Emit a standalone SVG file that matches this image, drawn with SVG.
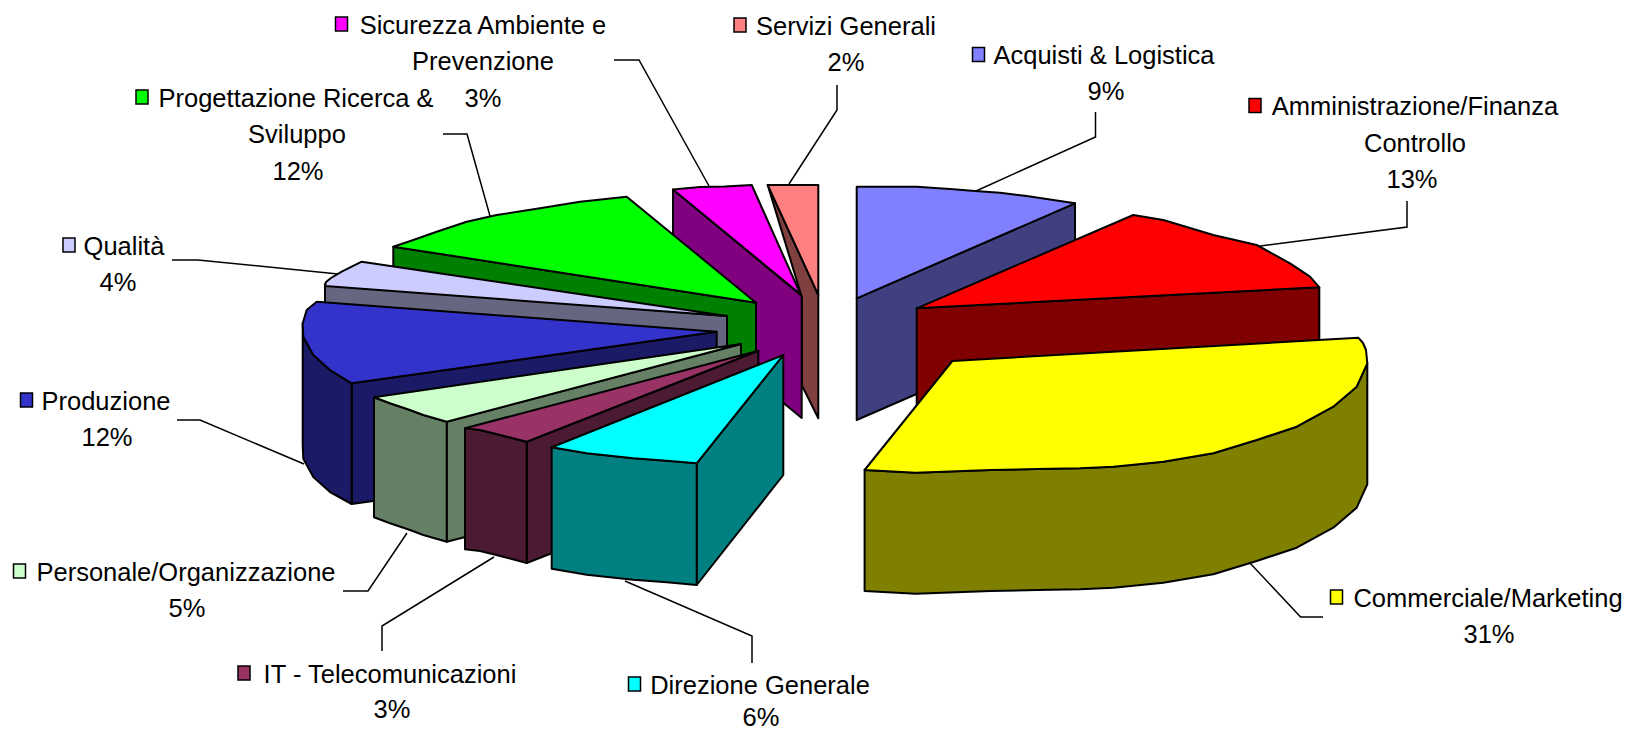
<svg xmlns="http://www.w3.org/2000/svg" width="1632" height="731" viewBox="0 0 1632 731">
<style>
.s{stroke:#000;stroke-width:2;stroke-linejoin:round}
.k{stroke:#000;stroke-width:1.5}
.l{fill:none;stroke:#000;stroke-width:1.5}
text{font-family:"Liberation Sans",Arial,sans-serif;font-size:25.5px;fill:#000;text-anchor:middle}
</style>
<rect width="1632" height="731" fill="#fff"/>
<g id="slice-servizi">
<polygon class="s" fill="#804040" points="767.7,185 818.3,295 818.3,418.3 801.7,385 801.7,296.7"/>
<polygon class="s" fill="#FF8080" points="767.7,185 818.3,185 818.3,295"/>
</g>
<g id="slice-sicurezza">
<polygon class="s" fill="#800080" points="673,189.5 801.7,296 801.7,418 673,312"/>
<polygon class="s" fill="#FF00FF" points="673,189.5 700,187 725,186.5 751.7,185 800.7,294.5"/>
</g>
<g id="slice-acquisti">
<polygon class="s" fill="#404080" points="856.7,298.3 1075,203.3 1075,325 856.7,420"/>
<polygon class="s" fill="#8080FF" points="856.7,186.7 916.7,186.7 953.3,189.3 975,191 1000,192.7 1026.7,196 1053.3,200 1075,203.3 856.7,298.3"/>
</g>
<g id="slice-progettazione">
<polygon class="s" fill="#008000" points="393.3,246.7 756,302.7 756,425 393.3,369"/>
<polygon class="s" fill="#00FF00" points="393.3,246.7 413.3,240 436.7,231.7 466.7,221.7 496.7,215 540,208.3 580,201.7 626.7,196.7 756,302.7"/>
</g>
<g id="slice-qualita">
<polygon class="s" fill="#666680" points="325,284 727,316 727,438 325,408"/>
<polygon class="s" fill="#CCCCFF" points="325,286 326,282 331,278 341.7,271.7 361.7,261.7 727,316"/>
</g>
<g id="slice-produzione">
<polygon class="s" fill="#1A1A66" points="351.7,383.3 716.7,331.7 716.7,453 351.7,504"/>
<polygon class="s" fill="#1A1A66" points="302.7,323.3 303.3,336.7 313.3,355 330,370 351.7,383.3 351.7,504 330,492 313.3,477 303.3,458.7 302.7,445.3"/>
<polygon class="s" fill="#3333CC" points="316.7,301.7 306.7,310 302.7,323.3 303.3,336.7 313.3,355 330,370 351.7,383.3 716.7,331.7"/>
</g>
<g id="slice-amministrazione">
<polygon class="s" fill="#800000" points="916.7,308.3 1319.3,287.3 1319.3,409 916.7,430"/>
<polygon class="s" fill="#FF0000" points="916.7,308.3 1133.3,215 1163.3,220 1213.3,235 1256.7,245 1290,263.3 1310,276.7 1319.3,287.3"/>
</g>
<g id="slice-personale">
<polygon class="s" fill="#668066" points="446.7,421.7 741,344 741,466 446.7,541.7"/>
<polygon class="s" fill="#668066" points="374,397.3 390,403.3 410,410 423.3,415 443.3,420.7 446.7,421.7 446.7,541.7 443.3,540.7 423.3,535 410,530 390,523.3 374,517.3"/>
<polygon class="s" fill="#CCFFCC" points="374,397.3 390,403.3 410,410 423.3,415 443.3,420.7 446.7,421.7 741,344"/>
</g>
<g id="slice-it">
<polygon class="s" fill="#4D1A33" points="526.7,441.7 758.3,350.7 758.3,472.7 526.7,563"/>
<polygon class="s" fill="#4D1A33" points="465,428.3 480,430 493.3,433.3 510,437.5 526.7,441.7 526.7,563 510,558.5 493.3,554.3 480,551 465,549.3"/>
<polygon class="s" fill="#993366" points="465,428.3 480,430 493.3,433.3 510,437.5 526.7,441.7 758.3,350.7"/>
</g>
<g id="slice-direzione">
<polygon class="s" fill="#008080" points="696.7,463.3 783.3,355 783.3,475 696.7,585"/>
<polygon class="s" fill="#008080" points="551.7,447.3 586.7,453.3 633.3,458.3 666.7,460.7 696.7,463.3 696.7,585 666.7,582.2 633.3,579.8 586.7,574.8 551.7,568.8"/>
<polygon class="s" fill="#00FFFF" points="551.7,447.3 586.7,453.3 633.3,458.3 666.7,460.7 696.7,463.3 783.3,355"/>
</g>
<g id="slice-commerciale">
<polygon class="s" fill="#808000" points="1367.3,363.3 1356.7,386.7 1333.3,406.7 1296.7,426.7 1256.7,440 1213.3,453.3 1163.3,461.7 1113.3,466.7 1080,468.3 1037,469 990.7,470 915.7,472.7 864.6,470 864.6,591 915.7,593.7 990.7,591 1037,590 1080,589.3 1113.3,587.7 1163.3,582.7 1213.3,574.3 1256.7,561 1296.7,547.7 1333.3,527.7 1356.7,507.7 1367.3,484.3"/>
<polygon class="s" fill="#FFFF00" points="952.3,361 1358.3,337.7 1363,343 1366,350 1367.3,363.3 1356.7,386.7 1333.3,406.7 1296.7,426.7 1256.7,440 1213.3,453.3 1163.3,461.7 1113.3,466.7 1080,468.3 1037,469 990.7,470 915.7,472.7 864.6,470"/>
</g>
<g id="connectors">
<polyline class="l" points="614,60 639,60 709,186"/>
<polyline class="l" points="837,85 837,110 789,184"/>
<polyline class="l" points="1095.5,112 1095.5,137 976,191"/>
<polyline class="l" points="1407,201 1407,227 1260,246"/>
<polyline class="l" points="1323,617 1300.6,617 1249,562"/>
<polyline class="l" points="752,663 752,636 625,581"/>
<polyline class="l" points="382,651 382,626 494,557"/>
<polyline class="l" points="343,591 368,591 407,533"/>
<polyline class="l" points="177,420 200,420 304,464"/>
<polyline class="l" points="172,260 198,260 338,274"/>
<polyline class="l" points="443,134 467,134 490,216"/>
</g>
<g id="label-sicurezza">
<rect class="k" fill="#FF00FF" x="335.5" y="17" width="12" height="14"/>
<text x="483" y="34">Sicurezza Ambiente e</text>
<text x="483" y="70">Prevenzione</text>
<text x="483" y="107">3%</text>
</g>
<g id="label-servizi">
<rect class="k" fill="#FF8080" x="734" y="18" width="12" height="14"/>
<text x="846" y="35">Servizi Generali</text>
<text x="846" y="71">2%</text>
</g>
<g id="label-acquisti">
<rect class="k" fill="#8080FF" x="972.5" y="47.5" width="12" height="14"/>
<text x="1104" y="64">Acquisti &amp; Logistica</text>
<text x="1106" y="100">9%</text>
</g>
<g id="label-amministrazione">
<rect class="k" fill="#FF0000" x="1249" y="98.5" width="12" height="14"/>
<text x="1415" y="115">Amministrazione/Finanza</text>
<text x="1415" y="152">Controllo</text>
<text x="1412" y="188">13%</text>
</g>
<g id="label-commerciale">
<rect class="k" fill="#FFFF00" x="1330.5" y="590" width="12" height="14"/>
<text x="1488" y="607">Commerciale/Marketing</text>
<text x="1489" y="643">31%</text>
</g>
<g id="label-direzione">
<rect class="k" fill="#00FFFF" x="628.5" y="677" width="12" height="14"/>
<text x="760" y="694">Direzione Generale</text>
<text x="761" y="726">6%</text>
</g>
<g id="label-it">
<rect class="k" fill="#993366" x="238" y="666" width="12" height="14"/>
<text x="390" y="683">IT - Telecomunicazioni</text>
<text x="392" y="718">3%</text>
</g>
<g id="label-personale">
<rect class="k" fill="#CCFFCC" x="13.5" y="564" width="12" height="14"/>
<text x="186" y="581">Personale/Organizzazione</text>
<text x="187" y="617">5%</text>
</g>
<g id="label-produzione">
<rect class="k" fill="#3333CC" x="20.5" y="393" width="12" height="14"/>
<text x="106" y="410">Produzione</text>
<text x="107" y="446">12%</text>
</g>
<g id="label-qualita">
<rect class="k" fill="#CCCCFF" x="63" y="238" width="12" height="14"/>
<text x="124" y="255">Qualità</text>
<text x="118" y="291">4%</text>
</g>
<g id="label-progettazione">
<rect class="k" fill="#00FF00" x="136" y="90" width="12" height="14"/>
<text x="296" y="107">Progettazione Ricerca &amp;</text>
<text x="297" y="143">Sviluppo</text>
<text x="298" y="180">12%</text>
</g>
</svg>
